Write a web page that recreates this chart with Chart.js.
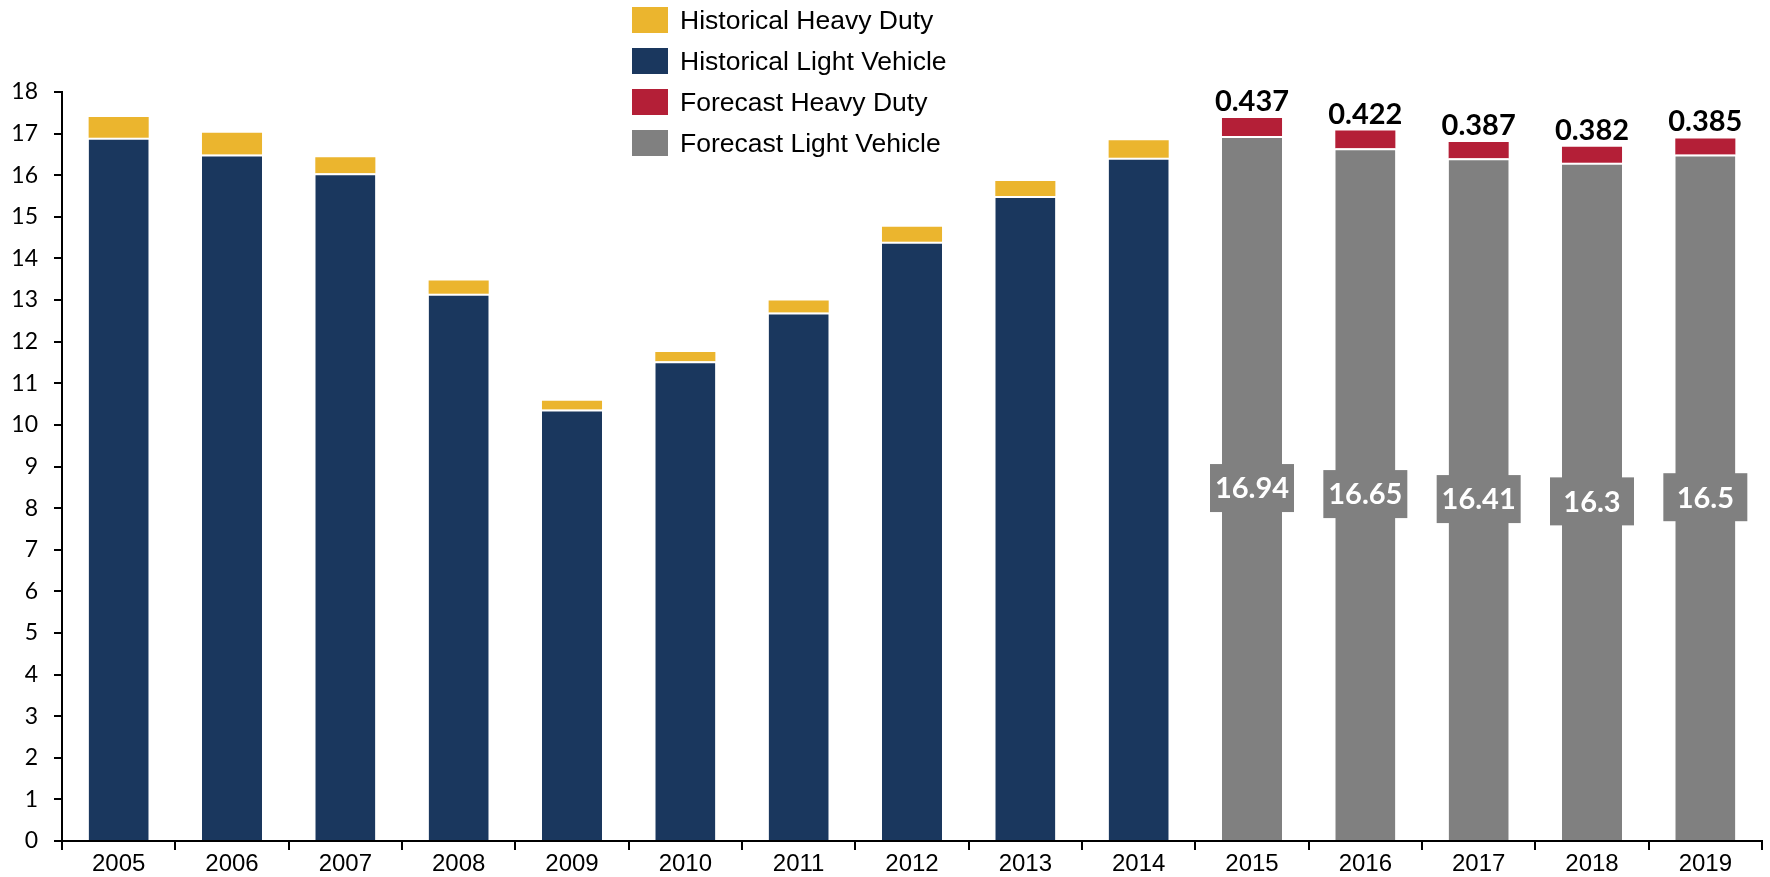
<!DOCTYPE html>
<html>
<head>
<meta charset="utf-8">
<script src="https://cdn.jsdelivr.net/npm/chart.js"></script>
<style>
  body { margin: 0; background: #fff; }
  #wrap { position: relative; width: 1770px; height: 877px; }
  #legend { position: absolute; left: 632px; top: 7px; font-family: "Liberation Sans", Arial, sans-serif; font-size: 26.5px; color: #000; }
  .row { position: absolute; left: 0; height: 26px; white-space: nowrap; }
  .box { position: absolute; left: 0; top: 0; width: 36px; height: 26px; }
  .lbl { position: absolute; left: 48px; top: 13px; transform: translateY(-50%); line-height: 1; }
</style>
</head>
<body>
<div id="wrap">
  <canvas id="chart"></canvas>
  <div id="legend"></div>
</div>
<script>
// years on the x axis
var years = ["2005","2006","2007","2008","2009","2010","2011","2012","2013","2014","2015","2016","2017","2018","2019"];

// sales, millions of units
var histLight = [16.9, 16.5, 16.05, 13.15, 10.37, 11.53, 12.7, 14.4, 15.5, 16.42, null, null, null, null, null];
var histHeavy = [0.5, 0.52, 0.38, 0.32, 0.21, 0.22, 0.29, 0.36, 0.36, 0.42, null, null, null, null, null];
var foreLight = [null, null, null, null, null, null, null, null, null, null, 16.94, 16.65, 16.41, 16.3, 16.5];
var foreHeavy = [null, null, null, null, null, null, null, null, null, null, 0.437, 0.422, 0.387, 0.382, 0.385];

var yTicks = [0,1,2,3,4,5,6,7,8,9,10,11,12,13,14,15,16,17,18];

var navy = "#1a375e";
var gold = "#ebb52e";
var red = "#b41f37";
var grey = "#808080";

// labels on forecast bars
var labelPlugin = {
	id: "barLabels",
	afterDatasetsDraw: function(chart) {
		var ctx = chart.ctx;
		ctx.save();
		ctx.textAlign = "center";
		ctx.font = "bold 29px Lato, 'Open Sans', sans-serif";

		// grey light vehicle boxes, centred in the segment
		var m = chart.getDatasetMeta(2);
		m.data.forEach(function(el, i){
			var v = foreLight[i];
			if (v == null) return;
			var p = el.getProps(["x","y","base"], true);
			var cy = (p.y + p.base) / 2;
			ctx.fillStyle = grey;
			ctx.fillRect(p.x - 42, cy - 24, 84, 48);
			ctx.fillStyle = "#fff";
			ctx.textBaseline = "middle";
			ctx.fillText(String(v), p.x, cy + 1);
		});

		// heavy duty value above the stack
		var m2 = chart.getDatasetMeta(3);
		m2.data.forEach(function(el, i){
			var v = foreHeavy[i];
			if (v == null) return;
			var p = el.getProps(["x","y"], true);
			ctx.fillStyle = "#000";
			ctx.textBaseline = "alphabetic";
			ctx.fillText(String(v), p.x, p.y - 7);
		});
		ctx.restore();
	}
};

var data1 = {
	labels: years,
	datasets: [
	{
		label: "Historical Light Vehicle",
		data: histLight,
		backgroundColor: navy,
		borderColor: "#fff",
		borderWidth: {top: 2, left: 0, right: 0, bottom: 0}
	},
	{
		label: "Historical Heavy Duty",
		data: histHeavy,
		backgroundColor: gold,
		borderWidth: 0
	},
	{
		label: "Forecast Light Vehicle",
		data: foreLight,
		backgroundColor: grey,
		borderColor: "#fff",
		borderWidth: {top: 2, left: 0, right: 0, bottom: 0}
	},
	{
		label: "Forecast Heavy Duty",
		data: foreHeavy,
		backgroundColor: red,
		borderWidth: 0
	}
	]
};

var options = {
	responsive: true,
	maintainAspectRatio: false,
	animation: false,
	layout: { padding: { top: 92, right: 8, left: 0, bottom: 0 } },
	datasets: { bar: { categoryPercentage: 1, barPercentage: 0.53 } },
	plugins: {
		legend: { display: false },
		tooltip: { enabled: false }
	},
	scales: {
		x: {
			stacked: true,
			grid: { offset: true, drawOnChartArea: false, drawTicks: true, tickLength: 9, color: "#000", lineWidth: 2 },
			border: { color: "#000", width: 2 },
			ticks: { color: "#000", font: { family: "'Liberation Sans', Arial, sans-serif", size: 24 }, padding: 0, maxRotation: 0 },
			afterFit: function(axis){ axis.height = 36; }
		},
		y: {
			stacked: true,
			min: 0,
			max: 18,
			afterBuildTicks: function(axis){ axis.ticks = yTicks.map(function(v){ return {value: v}; }); },
			grid: { drawOnChartArea: false, drawTicks: true, tickLength: 8, color: "#000", lineWidth: 2 },
			border: { color: "#000", width: 2 },
			ticks: { color: "#000", font: { family: "Lato, 'Open Sans', sans-serif", size: 23 }, padding: 16 },
			afterFit: function(axis){ axis.width = 62; }
		}
	}
};

var chart1 = new Chart(document.getElementById("chart"), {
	type: "bar",
	data: data1,
	options: options,
	plugins: [labelPlugin]
});

// legend in the order of the original
var legendOrder = [1, 0, 3, 2];
var leg = document.getElementById("legend");
legendOrder.forEach(function(di, r){
	var ds = data1.datasets[di];
	var row = document.createElement("div");
	row.className = "row";
	row.style.top = (r * 41) + "px";
	row.innerHTML = '<div class="box" style="background:' + ds.backgroundColor + '"></div><div class="lbl">' + ds.label + '</div>';
	leg.appendChild(row);
});
</script>
</body>
</html>
